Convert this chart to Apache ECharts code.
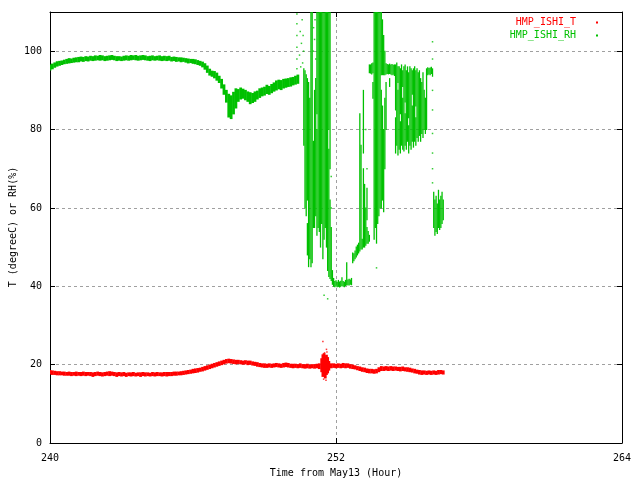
<!DOCTYPE html>
<html>
<head>
<meta charset="utf-8">
<script src="https://cdn.jsdelivr.net/npm/echarts@6/dist/echarts.min.js"></script>
<style>html,body{margin:0;padding:0;background:#fff;}#chart{width:640px;height:480px;}</style>
</head>
<body>
<div id="chart"></div>
<script>
// ---- axis settings ----
const xMin = 240, xMax = 264, xStep = 12;
const yMin = 0, yMax = 110, yStep = 20;
const xTitle = 'Time from May13 (Hour)';
const yTitle = 'T (degreeC) or RH(%)';
const seriesNames = ['HMP_ISHI_T', 'HMP_ISHI_RH'];

// ---- temperature: [hour, low, high] spread of readings ----
const tempBand = [
[240.0,17.6,18.5],[240.1,17.5,18.4],[240.2,17.5,18.3],[240.3,17.4,18.2],[240.4,17.4,18.2],[240.5,17.4,18.1],
[240.6,17.3,18.1],[240.7,17.3,18.0],[240.8,17.3,18.1],[240.9,17.2,18.0],[241.0,17.3,18.0],[241.1,17.2,18.1],
[241.2,17.3,18.0],[241.3,17.2,18.0],[241.4,17.3,18.1],[241.5,17.2,18.0],[241.6,17.3,18.0],[241.7,17.2,18.0],
[241.8,17.0,17.9],[241.9,17.2,18.0],[242.0,17.3,18.1],[242.1,17.2,18.0],[242.2,17.1,17.9],[242.3,17.2,18.0],
[242.4,17.3,18.1],[242.5,17.2,18.2],[242.6,17.3,18.1],[242.7,17.2,18.0],[242.8,17.0,17.9],[242.9,17.2,18.0],
[243.0,17.1,17.9],[243.1,17.2,18.0],[243.2,17.0,17.8],[243.3,17.2,17.9],[243.4,17.1,17.9],[243.5,17.2,18.0],
[243.6,17.1,17.8],[243.7,17.2,17.9],[243.8,17.0,17.9],[243.9,17.2,18.0],[244.0,17.1,17.9],[244.1,17.2,17.9],
[244.2,17.1,17.8],[244.3,17.2,18.0],[244.4,17.1,17.9],[244.5,17.2,18.0],[244.6,17.2,17.9],[244.7,17.1,17.9],
[244.8,17.2,18.0],[244.9,17.1,18.0],[245.0,17.2,18.0],[245.1,17.2,18.0],[245.2,17.3,18.1],[245.3,17.3,18.1],
[245.4,17.4,18.1],[245.5,17.4,18.2],[245.6,17.5,18.3],[245.7,17.6,18.4],[245.8,17.7,18.5],[245.9,17.8,18.6],
[246.0,17.9,18.8],[246.1,18.0,18.9],[246.2,18.1,19.0],[246.3,18.3,19.1],[246.4,18.4,19.3],[246.5,18.6,19.5],
[246.6,18.8,19.7],[246.7,19.0,19.9],[246.8,19.2,20.1],[246.9,19.4,20.3],[247.0,19.6,20.5],[247.1,19.8,20.7],
[247.2,20.0,20.9],[247.3,20.2,21.1],[247.4,20.4,21.3],[247.5,20.5,21.4],[247.6,20.4,21.3],[247.7,20.3,21.2],
[247.8,20.2,21.1],[247.9,20.3,21.1],[248.0,20.2,21.0],[248.1,20.1,20.9],[248.2,20.2,21.0],[248.3,20.0,20.9],
[248.4,20.1,20.9],[248.5,19.9,20.7],[248.6,19.8,20.6],[248.7,19.6,20.5],[248.8,19.5,20.3],[248.9,19.4,20.2],
[249.0,19.3,20.2],[249.1,19.3,20.1],[249.2,19.4,20.2],[249.3,19.3,20.1],[249.4,19.4,20.2],[249.5,19.5,20.3],
[249.6,19.4,20.2],[249.7,19.3,20.1],[249.8,19.4,20.3],[249.9,19.5,20.4],[250.0,19.4,20.3],[250.1,19.3,20.1],
[250.2,19.2,20.1],[250.3,19.3,20.1],[250.4,19.2,20.0],[250.5,19.3,20.2],[250.6,19.2,20.0],[250.7,19.1,20.0],
[250.8,19.2,20.1],[250.9,19.1,19.9],[251.0,19.2,20.0],[251.1,19.1,20.0],[251.2,19.2,20.1],[251.3,19.0,20.2],
[251.4,18.2,21.5],[251.45,17.0,22.5],[251.5,17.2,22.8],[251.55,16.6,22.0],[251.6,17.5,22.4],[251.65,17.9,21.8],
[251.7,18.6,20.8],[251.8,19.2,20.2],[251.9,19.3,20.2],[252.0,19.2,20.1],[252.1,19.3,20.2],[252.2,19.2,20.1],
[252.3,19.3,20.3],[252.4,19.2,20.2],[252.5,19.3,20.2],[252.6,19.1,20.0],[252.7,19.0,19.9],[252.8,18.9,19.7],
[252.9,18.7,19.5],[253.0,18.5,19.4],[253.1,18.3,19.2],[253.2,18.2,19.1],[253.3,18.0,18.9],[253.4,17.9,18.8],
[253.5,17.9,18.8],[253.6,17.8,18.7],[253.7,17.9,18.8],[253.8,18.2,19.2],[253.9,18.5,19.5],[254.0,18.5,19.4],
[254.1,18.6,19.5],[254.2,18.5,19.4],[254.3,18.6,19.5],[254.4,18.5,19.4],[254.5,18.6,19.4],[254.6,18.5,19.3],
[254.7,18.4,19.3],[254.8,18.5,19.4],[254.9,18.4,19.2],[255.0,18.3,19.2],[255.1,18.2,19.1],[255.2,18.1,18.9],
[255.3,17.9,18.8],[255.4,17.8,18.6],[255.5,17.6,18.5],[255.6,17.5,18.4],[255.7,17.6,18.4],[255.8,17.5,18.3],
[255.9,17.6,18.4],[256.0,17.5,18.3],[256.1,17.6,18.4],[256.2,17.5,18.3],[256.3,17.6,18.5],[256.4,17.7,18.5],
[256.5,17.6,18.4]
];
// isolated temperature readings: [hour, value]
const tempDots = [[251.45,25.9],[251.6,23.9],[251.62,23.2],[251.52,23.0],[251.48,16.3],[251.58,16.0]];

// ---- relative humidity, steady part: [hour, low, high] ----
const rhBand = [
[240.0,95.2,96.5],[240.1,95.5,96.7],[240.2,95.9,97.0],[240.3,96.2,97.3],[240.4,96.4,97.4],[240.5,96.6,97.5],
[240.6,96.8,97.7],[240.7,96.9,97.9],[240.8,97.0,98.1],[240.9,97.1,98.0],[241.0,97.2,98.2],[241.1,97.3,98.3],
[241.2,97.3,98.4],[241.3,97.5,98.5],[241.4,97.4,98.4],[241.5,97.6,98.6],[241.6,97.5,98.5],[241.7,97.7,98.7],
[241.8,97.6,98.6],[241.9,97.7,98.8],[242.0,97.8,98.7],[242.1,97.7,98.9],[242.2,97.8,98.8],[242.3,97.6,98.6],
[242.4,97.7,98.7],[242.5,97.8,98.8],[242.6,97.9,98.9],[242.7,97.8,98.7],[242.8,97.6,98.6],[242.9,97.7,98.6],
[243.0,97.6,98.5],[243.1,97.7,98.7],[243.2,97.8,98.8],[243.3,97.7,98.7],[243.4,97.8,98.9],[243.5,97.9,98.8],
[243.6,97.8,98.9],[243.7,97.7,98.7],[243.8,97.8,98.8],[243.9,97.9,98.9],[244.0,97.8,98.8],[244.1,97.7,98.6],
[244.2,97.6,98.7],[244.3,97.8,98.8],[244.4,97.7,98.6],[244.5,97.8,98.7],[244.6,97.7,98.8],[244.7,97.6,98.6],
[244.8,97.7,98.7],[244.9,97.6,98.6],[245.0,97.7,98.7],[245.1,97.5,98.4],[245.2,97.6,98.5],[245.3,97.4,98.4],
[245.4,97.5,98.3],[245.5,97.3,98.3],[245.6,97.4,98.2],[245.7,97.2,98.1],[245.8,97.0,98.0],[245.9,97.1,97.9],
[246.0,96.9,97.9],[246.1,96.8,97.8],[246.2,96.6,97.6],[246.3,96.4,97.4],[246.4,96.0,97.2],[246.5,95.4,96.8],
[246.6,94.6,96.2],[246.7,93.9,95.4],[246.8,93.6,94.9],[246.9,93.2,94.8],[247.0,92.6,94.4],[247.1,92.0,93.6],
[247.2,90.6,92.8],[247.3,89.0,91.4],[247.4,87.0,90.0],[247.5,83.2,89.0],[247.6,82.8,88.6],[247.7,84.0,89.5],
[247.8,85.5,90.4],[247.9,87.2,90.2],[248.0,87.8,90.6],[248.1,88.0,90.3],[248.2,87.6,90.0],[248.3,87.2,89.6],
[248.4,86.6,89.4],[248.5,86.9,89.2],[248.6,87.2,89.6],[248.7,87.8,89.8],[248.8,88.2,90.4],[248.9,88.6,90.6],
[249.0,88.8,90.8],[249.1,89.2,91.3],[249.2,89.0,91.0],[249.3,89.4,91.5],[249.4,89.8,91.9],[249.5,90.1,92.4],
[249.6,90.4,92.6],[249.7,90.2,92.5],[249.8,90.6,92.8],[249.9,90.8,92.9],[250.0,91.0,93.0],[250.1,91.1,93.2],
[250.2,91.4,93.3],[250.3,91.6,93.6],[250.4,91.8,93.9]
];

// ---- relative humidity, erratic part: [hour, low, high] streaks ----
const rhBursts = [
[250.65,76,95.5],[250.70,60,95],[250.75,58,94],[250.80,62,93],[250.80,48,56],[250.85,45,92],[250.90,47,88],
[250.95,45,110],[251.00,46,110],[251.05,55,77],[251.10,55,90],[251.15,58,93],[251.20,53,80],[251.20,84,110],
[251.25,55,110],[251.30,54,110],[251.35,50,110],[251.40,56,110],[251.45,47,110],[251.50,52,110],[251.55,55,110],
[251.60,50,110],[251.65,44,110],[251.70,42.5,75],[251.70,80,110],[251.75,42,62],[251.75,70,110],[251.80,41.5,55],
[251.85,40.5,44],[251.90,40,42],[251.95,39.9,41.2],[252.00,40.1,41.4],[252.05,39.9,41.0],[252.10,40.0,41.5],
[252.15,39.8,41.1],[252.20,40.0,41.3],[252.25,40.2,42.2],[252.30,40.0,41.2],[252.35,39.9,41.0],[252.40,40.2,41.5],
[252.45,40.3,46.0],[252.50,40.4,41.6],[252.55,40.3,41.8],[252.60,40.5,41.6],[252.65,40.4,42.0],[252.70,46.0,48.5],
[252.75,46.5,48.3],[252.80,47.0,49.0],[252.85,47.5,50.0],[252.90,48.0,50.5],[252.95,48.5,51.0],[253.00,49.0,84.0],
[253.05,49.5,76.0],[253.10,49.5,52.0],[253.15,50.0,70.0],[253.15,74,90],[253.20,50.0,66.0],[253.25,50.5,60.0],
[253.30,51.0,55.0],[253.30,57,65],[253.35,51.0,54.0],[253.40,51.5,53.0],[253.40,94.5,96.5],[253.45,94.4,96.5],
[253.50,94.2,96.8],[253.55,88,92],[253.55,94.5,97],[253.60,52,110],[253.65,55,110],[253.70,51,110],[253.75,56,110],
[253.80,58,110],[253.85,60,110],[253.90,60,90],[253.90,94,110],[253.95,62,86],[253.95,94,108],[254.00,59,80],
[254.00,94,104],[254.05,70,88],[254.05,94,100],[254.10,80,92],[254.10,94.2,96.8],[254.15,94.3,96.6],
[254.20,94.2,96.5],[254.25,91,93],[254.25,94.3,96.7],[254.30,94.2,96.5],[254.35,94.0,96.6],[254.40,94.1,96.4],
[254.45,93.8,96.5],[254.50,74,83],[254.50,85,96.5],[254.55,76,97],[254.60,73.5,90],[254.60,92,96],[254.65,75,96],
[254.70,74,82],[254.70,84,95.5],[254.75,76,96.5],[254.80,75,88],[254.80,91,95],[254.85,74.5,96],[254.90,76,84],
[254.90,87,96.5],[254.95,75,95],[255.00,77,96],[255.05,74,81],[255.05,83,94.5],[255.10,76,96],[255.15,75,95.5],
[255.20,77,86],[255.20,89,95],[255.25,75.5,95.5],[255.30,77,96],[255.35,76,83],[255.35,86,95],[255.40,78,95.5],
[255.45,77,94.5],[255.50,78.5,95],[255.55,77,93],[255.60,79,92],[255.65,78,94.5],[255.70,80,90],[255.75,79,88],
[255.80,80,95.5],[255.85,94,95.8],[255.90,94.2,95.6],[255.95,94,95.7],[256.00,94.3,95.9],[256.05,93.6,95.5],
[256.10,55,64],[256.15,53,62],[256.20,54,63],[256.25,53.5,61],[256.30,55,64.5],[256.35,54.5,62],[256.40,55,63],
[256.45,56,64],[256.50,57,62]
];
// isolated humidity readings: [hour, value]
const rhDots = [
[250.36,95.5],[250.36,98],[250.36,101],[250.36,104],[250.36,107],[250.36,109.5],[250.47,99],[250.5,105],[250.52,96],
[250.55,102],[250.58,108],[250.6,97],[250.62,104],[250.64,100],[251.05,100],[251.06,106],[251.1,103],[251.12,108],
[251.15,98],[251.8,60],[251.8,68],[253.7,44.7],[256.05,66.4],[256.05,70],[256.05,74],[256.05,79],[256.05,85],
[256.05,90],[256.05,98],[256.05,102.4],[251.5,37.7],[251.65,36.8],[253.25,80],[253.3,70]
];

// ---- drawing ----
const RED = '#ff0000', GREEN = '#00c000';
const FONT = 'DejaVu Sans Mono';

function rangeSeries(name, data, color, binHours, extra) {
  return {
    type: 'custom', name: name, data: data, clip: true,
    itemStyle: { color: color },
    encode: { x: 0, y: [1, 2] },
    renderItem: function (params, api) {
      const x = api.value(0), lo = api.value(1), hi = api.value(2);
      const pLo = api.coord([x, lo]);
      const pHi = api.coord([x, hi]);
      const w = api.size([binHours, 0])[0] + extra;
      return {
        type: 'rect',
        shape: { x: pLo[0] - w / 2, y: pHi[1] - 0.5, width: w, height: Math.max(1, pLo[1] - pHi[1] + 1) },
        style: { fill: color }
      };
    }
  };
}
function dotSeries(name, data, color) {
  return { type: 'scatter', name: name, data: data, symbol: 'rect', symbolSize: 1.5,
           itemStyle: { color: color }, silent: true, clip: true };
}

const gridLine = { show: true, showMinLine: false, showMaxLine: false,
                   lineStyle: { color: '#a0a0a0', type: [3, 3], width: 1 } };
const blackLine = { show: true, onZero: false, lineStyle: { color: '#000', width: 1 } };
const tick = { show: true, inside: true, length: 5, lineStyle: { color: '#000' } };

const chart = echarts.init(document.getElementById('chart'), null, { renderer: 'canvas' });
chart.setOption({
  animation: false,
  backgroundColor: '#fff',
  grid: { left: 50, right: 18, top: 12, bottom: 37, containLabel: false, outerBoundsMode: 'none' },
  graphic: [{
    type: 'text', x: 13, y: 227, rotation: Math.PI / 2, silent: true,
    style: { text: yTitle, fontFamily: FONT, fontSize: 10, fill: '#000', align: 'center', verticalAlign: 'middle' }
  }],
  legend: {
    orient: 'vertical', right: 37, top: 11, align: 'right',
    icon: 'rect', itemWidth: 2, itemHeight: 2, itemGap: 0,
    textStyle: { fontFamily: FONT, fontSize: 10, lineHeight: 13, padding: [0, 15, 0, 0] },
    data: [
      { name: seriesNames[0], textStyle: { color: RED } },
      { name: seriesNames[1], textStyle: { color: GREEN } }
    ],
    selectedMode: false
  },
  xAxis: [
    { type: 'value', position: 'bottom', min: xMin, max: xMax, interval: xStep,
      axisLine: blackLine, axisTick: tick, splitLine: gridLine,
      axisLabel: { color: '#000', fontFamily: FONT, fontSize: 10, margin: 10 },
      name: xTitle, nameLocation: 'middle', nameGap: 25,
      nameTextStyle: { color: '#000', fontFamily: FONT, fontSize: 10 } },
    { type: 'value', position: 'top', min: xMin, max: xMax, interval: xStep,
      axisLine: blackLine, axisTick: tick, splitLine: { show: false }, axisLabel: { show: false } }
  ],
  yAxis: [
    { type: 'value', position: 'left', min: yMin, max: yMax, interval: yStep,
      axisLine: blackLine, axisTick: tick, splitLine: gridLine,
      axisLabel: { color: '#000', fontFamily: FONT, fontSize: 10, margin: 8, showMaxLabel: false,
                   formatter: function (v) { return v > 100 ? '' : String(v); } } },
    { type: 'value', position: 'right', min: yMin, max: yMax, interval: yStep,
      axisLine: blackLine, axisTick: tick, splitLine: { show: false }, axisLabel: { show: false } }
  ],
  series: [
    rangeSeries(seriesNames[0], tempBand, RED, 0.1, 0.4),
    dotSeries(seriesNames[0], tempDots, RED),
    rangeSeries(seriesNames[1], rhBand, GREEN, 0.1, 0.4),
    rangeSeries(seriesNames[1], rhBursts, GREEN, 0.05, 0.1),
    dotSeries(seriesNames[1], rhDots, GREEN)
  ]
});
</script>
</body>
</html>
